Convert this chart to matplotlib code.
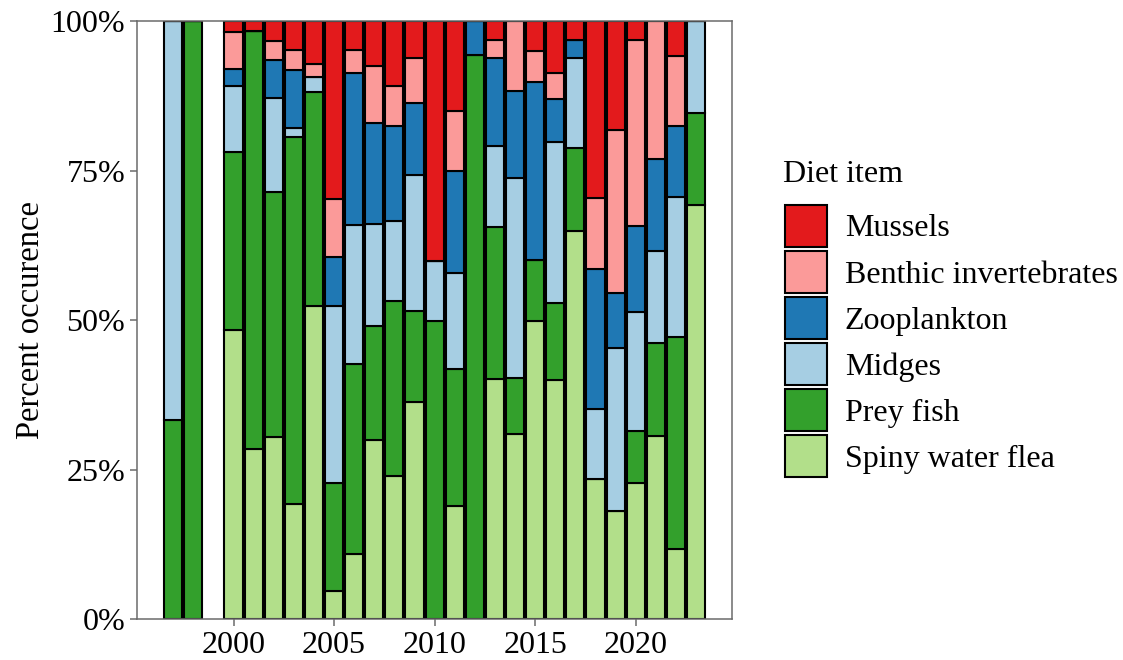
import numpy as np
import matplotlib
matplotlib.use('Agg')
import matplotlib.pyplot as plt
from matplotlib.ticker import FuncFormatter

plt.rcParams['font.family'] = ['Liberation Serif', 'DejaVu Serif']

years = [1997, 1998, 2000, 2001, 2002, 2003, 2004, 2005, 2006, 2007, 2008, 2009,
         2010, 2011, 2012, 2013, 2014, 2015, 2016, 2017, 2018, 2019, 2020, 2021,
         2022, 2023]

spiny   = [0, 0, 48.4, 28.4, 30.4, 19.2, 52.3, 4.7, 10.9, 30.0, 23.9, 36.3, 0, 18.9, 0,
           40.1, 30.9, 49.9, 40.0, 64.9, 23.4, 18.1, 22.8, 30.7, 11.8, 69.2]
prey    = [33.3, 100, 29.7, 70.0, 41.1, 61.4, 35.8, 18.1, 31.7, 19.0, 29.3, 15.2, 49.9,
           23.0, 94.4, 25.5, 9.5, 10.1, 12.9, 13.9, 0, 0, 8.7, 15.4, 35.3, 15.4]
midges  = [66.7, 0, 11.0, 0, 15.7, 1.6, 2.5, 29.5, 23.3, 17.1, 13.4, 22.7, 10.0, 16.0, 0,
           13.5, 33.3, 0, 26.9, 15.0, 11.7, 27.3, 19.9, 15.4, 23.5, 15.4]
zoo     = [0, 0, 2.9, 0, 6.3, 9.7, 0, 8.2, 25.5, 16.9, 15.9, 12.1, 0, 17.0, 5.6, 14.8,
           14.6, 29.9, 7.1, 3.1, 23.5, 9.1, 14.3, 15.4, 11.8, 0]
benthic = [0, 0, 6.1, 0, 3.2, 3.3, 2.2, 9.7, 3.8, 9.5, 6.7, 7.6, 0, 10.1, 0, 3.0, 11.7,
           5.1, 4.4, 0, 11.9, 27.3, 31.2, 23.1, 11.8, 0]
mussels = [0, 0, 1.9, 1.6, 3.3, 4.8, 7.2, 29.8, 4.8, 7.5, 10.8, 6.1, 40.1, 15.0, 0, 3.1,
           0, 5.0, 8.7, 3.1, 29.5, 18.2, 3.1, 0, 5.9, 0]

# bottom to top
series = [('Spiny water flea', spiny, '#B2DF8A'),
          ('Prey fish', prey, '#33A02C'),
          ('Midges', midges, '#A6CEE3'),
          ('Zooplankton', zoo, '#1F78B4'),
          ('Benthic invertebrates', benthic, '#FB9A99'),
          ('Mussels', mussels, '#E31A1C')]

fig = plt.figure(figsize=(11.23, 6.6), dpi=100)
ax = fig.add_axes([0.122, 0.062, 0.530, 0.906])

bottom = np.zeros(len(years))
handles = []
for name, vals, col in series:
    vals = np.array(vals, dtype=float)
    b = ax.bar(years, vals, width=0.9, bottom=bottom, color=col,
               edgecolor='black', linewidth=1.5, label=name)
    handles.append(b)
    bottom += vals

ax.set_xlim(1995.2, 2024.8)
ax.set_ylim(0, 100)
ax.set_xticks([2000, 2005, 2010, 2015, 2020])
ax.set_yticks([0, 25, 50, 75, 100])
ax.yaxis.set_major_formatter(FuncFormatter(lambda v, p: f'{int(v)}%'))
ax.tick_params(labelsize=23, length=5, width=1.1, color='#6b6b6b', labelcolor='black')
for s in ax.spines.values():
    s.set_color('#6b6b6b')
    s.set_linewidth(1.1)
ax.set_ylabel('Percent occurence', fontsize=23.5, labelpad=3)

leg = fig.legend(handles[::-1], [s[0] for s in series][::-1],
                 loc='center left', bbox_to_anchor=(0.699, 0.483), frameon=False,
                 fontsize=23, handlelength=1.32, handleheight=1.65,
                 handletextpad=0.55, labelspacing=0.125, borderpad=0,
                 borderaxespad=0)
fig.text(0.697, 0.735, 'Diet item', fontsize=23, ha='left', va='center')

fig.savefig('out.png', dpi=100)
